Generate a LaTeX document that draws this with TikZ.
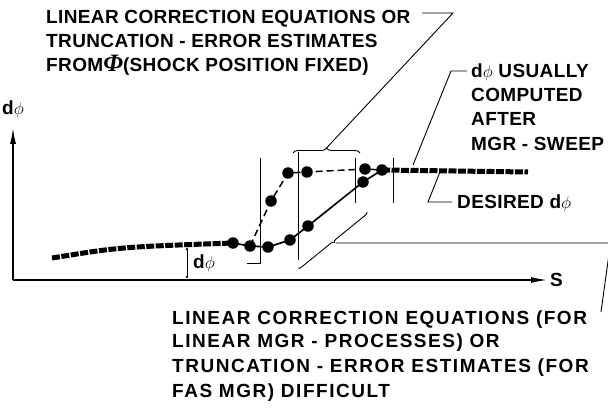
\documentclass[tikz,border=0pt]{standalone}
\usepackage{fontspec}
\setmainfont{Liberation Sans}
\newfontfamily\topfont{Liberation Sans}[LetterSpace=2]
\newfontfamily\botfont{Liberation Sans}[LetterSpace=8]
\newfontfamily\phifont{Liberation Serif}
\usetikzlibrary{arrows.meta,decorations.pathreplacing}
\tikzset{
  lbl/.style={anchor=base west,inner sep=0pt,font=\topfont\bfseries\fontsize{19}{24}\selectfont},
  blbl/.style={anchor=base west,inner sep=0pt,font=\botfont\bfseries\fontsize{19}{24}\selectfont},
  dot/.style={circle,fill=black,inner sep=0pt,minimum size=11.5pt},
  desired/.style={line width=5pt,dash pattern=on 8pt off 1.5pt},
  sol/.style={line width=1.7pt},
  dsh/.style={line width=1.5pt,dash pattern=on 7pt off 4pt},
  thinl/.style={line width=0.9pt},
  axis/.style={line width=1.3pt,-{Latex[length=16pt,width=6pt]}},
}
\begin{document}
\begin{tikzpicture}[x=1pt,y=-1pt]
\useasboundingbox (0,0) rectangle (608,409);
\clip (0,0) rectangle (608,409);

% axes
\coordinate (o) at (13,280);
\coordinate (ytip) at (13,128);
\coordinate (xtip) at (547,280);
\draw[axis] (o) -- (ytip);
\draw[axis] (o) -- (xtip);
\node[lbl] (ylab) at (2,115) {d$\phi$};
\node[anchor=west,inner sep=0pt,font=\bfseries\fontsize{19}{24}\selectfont] (xlab) at (550,280) {S};

% desired curve
\node[dot] (p1) at (233,243) {};
\draw[desired] (52,258) .. controls (120,247) .. (p1.center);

% dphi marker
\coordinate (m1) at (187,247);
\coordinate (m2) at (187,279);
\draw[thinl,{Latex[length=3pt,width=3pt]}-{Latex[length=3pt,width=3pt]}] (m1) -- (m2);
\node[anchor=west,inner sep=0pt,font=\bfseries\fontsize{19}{24}\selectfont] (mlab) at (193,263) {d$\phi$};

% dots
\node[dot] (p2) at (250,246) {};
\node[dot] (p3) at (268,247) {};
\node[dot] (p4) at (290,240) {};
\node[dot] (p5) at (308,226) {};
\node[dot] (p6) at (363,182) {};
\node[dot] (p7) at (382,170) {};
\node[dot] (q1) at (271,201) {};
\node[dot] (q2) at (288,173) {};
\node[dot] (q3) at (307,172) {};
\node[dot] (q4) at (365,169) {};

\draw[sol] (p1.center) -- (p2.center) -- (p3.center) -- (p4.center) -- (p5.center) -- (p6.center) -- (p7.center);
\draw[dsh] (p2.center) -- (q1.center) -- (q2.center) -- (q3.center) -- (q4.center) -- (p7.center);
\draw[desired] (p7.center) -- (528,172);

% thin vertical lines
\draw[thinl] (260,158) -- (260,263) -- (247,263);
\draw[thinl] (298,152) -- (298,260);
\draw[thinl] (355,158) -- (355,203);
\draw[thinl] (393,158) -- (393,203);

% brace and top leader
\draw[thinl,decorate,decoration={brace,amplitude=5pt}] (293,153) -- (360,153);
\coordinate (bt) at (326.5,148);
\coordinate (tl1) at (453,13);
\coordinate (tl2) at (422,13);
\draw[thinl] (bt) -- (tl1) -- (tl2);

% lower bracket and leader
\draw[thinl,decorate,decoration={brace,amplitude=3pt}] (367,212) -- (298,268);
\coordinate (lb) at (336,243);
\coordinate (lc) at (610.5,243);
\coordinate (le) at (601,312);
\draw[thinl] (lb) -- (lc) -- (le);

% dphi usually leader
\coordinate (u0) at (413,165);
\coordinate (u1) at (451,71);
\coordinate (u2) at (467,71);
\draw[thinl] (u0) -- (u1) -- (u2);

% desired leader
\coordinate (d0) at (440,172);
\coordinate (d1) at (428,202);
\coordinate (d2) at (452,202);
\draw[thinl] (d0) -- (d1) -- (d2);

% texts
\node[lbl] (t1) at (46,24) {LINEAR CORRECTION EQUATIONS OR};
\node[lbl] (t2) at (46,48) {TRUNCATION - ERROR ESTIMATES};
\node[lbl] (t3) at (46,72) {FROM{\phifont\itshape\fontsize{25}{25}\selectfont Φ}(SHOCK POSITION FIXED)};

\node[lbl] (r1) at (471,78) {d$\phi$ USUALLY};
\node[lbl] (r2) at (471,102) {COMPUTED};
\node[lbl] (r3) at (471,126) {AFTER};
\node[lbl] (r4) at (471,150) {MGR - SWEEP};
\node[lbl] (r5) at (457,208) {DESIRED d$\phi$};

\node[blbl] (b1) at (172,324) {LINEAR CORRECTION EQUATIONS (FOR};
\node[blbl] (b2) at (172,347) {LINEAR MGR - PROCESSES) OR};
\node[blbl] (b3) at (172,372) {TRUNCATION - ERROR ESTIMATES (FOR};
\node[blbl] (b4) at (172,397) {FAS MGR) DIFFICULT};
\end{tikzpicture}
\end{document}
